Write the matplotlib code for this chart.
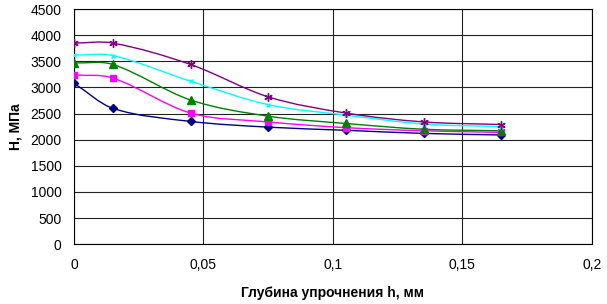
import numpy as np
import matplotlib.pyplot as plt
from matplotlib.path import Path
from matplotlib.patches import PathPatch

# Depth of hardening, mm
depth = [0, 0.015, 0.045, 0.075, 0.105, 0.135, 0.165]

# Hardness, MPa (five series)
hardness1 = [3080, 2600, 2350, 2240, 2180, 2120, 2090]
hardness2 = [3240, 3180, 2510, 2340, 2230, 2170, 2140]
hardness3 = [3470, 3440, 2760, 2450, 2310, 2200, 2170]
hardness4 = [3620, 3610, 3120, 2670, 2470, 2300, 2250]
hardness5 = [3850, 3850, 3440, 2820, 2510, 2340, 2290]

seriesList = [hardness1, hardness2, hardness3, hardness4, hardness5]
colors = ['#000080', '#FF00FF', '#008000', '#00FFFF', '#800080']
markers = ['D', 's', '^', 'x', (6, 2, 0)]
markerSizes = [4.5, 5, 5.5, 2.5, 6]

xTicks = [0, 0.05, 0.1, 0.15, 0.2]
xTickLabels = ['0', '0,05', '0,1', '0,15', '0,2']
yTicks = list(range(0, 4501, 500))

plt.rcParams['font.family'] = ['Liberation Sans', 'DejaVu Sans']


def smoothPath(xs, ys):
    # Smoothed line through the points: cubic Bezier segments with
    # tangents scaled to the (uneven) x spacing
    pts = np.column_stack([xs, ys]).astype(float)
    n = len(pts)
    slopes = []
    for i in range(n):
        a = pts[max(i - 1, 0)]
        b = pts[min(i + 1, n - 1)]
        slopes.append((b[1] - a[1]) / (b[0] - a[0]))
    verts = [pts[0]]
    codes = [Path.MOVETO]
    for i in range(n - 1):
        p1, p2 = pts[i], pts[i + 1]
        h = (p2[0] - p1[0]) / 3.0
        c1 = [p1[0] + h, p1[1] + slopes[i] * h]
        c2 = [p2[0] - h, p2[1] - slopes[i + 1] * h]
        verts += [c1, c2, p2]
        codes += [Path.CURVE4] * 3
    return Path(verts, codes)


fig = plt.figure(figsize=(6.07, 3.04), dpi=100)
ax = fig.add_axes([0.122, 0.197, 0.853, 0.773])

for values, color, marker, ms in zip(seriesList, colors, markers, markerSizes):
    patch = PathPatch(smoothPath(depth, values), facecolor='none', edgecolor=color, linewidth=1.0)
    ax.add_patch(patch)
    ax.plot(depth, values, linestyle='none', marker=marker, markersize=ms,
            color=color, markeredgecolor=color, markeredgewidth=1.0, zorder=3)

ax.set_xlim(0, 0.2)
ax.set_ylim(0, 4500)
ax.set_xticks(xTicks)
ax.set_xticklabels(xTickLabels, fontsize=10)
ax.set_yticks(yTicks)
ax.set_yticklabels([str(v) for v in yTicks], fontsize=10)
ax.tick_params(axis='x', length=0, pad=10)
ax.tick_params(axis='y', length=0, pad=9)

ax.grid(True, color='#222222', linewidth=0.8)
ax.set_axisbelow(True)
for spine in ax.spines.values():
    spine.set_color('black')
    spine.set_linewidth(0.8)

ax.set_xlabel('Глубина упрочнения h, мм', fontsize=10, fontweight='bold', labelpad=10)
ax.set_ylabel('Н, МПа', fontsize=10, fontweight='bold', labelpad=6)

fig.savefig('out.png', dpi=100)
